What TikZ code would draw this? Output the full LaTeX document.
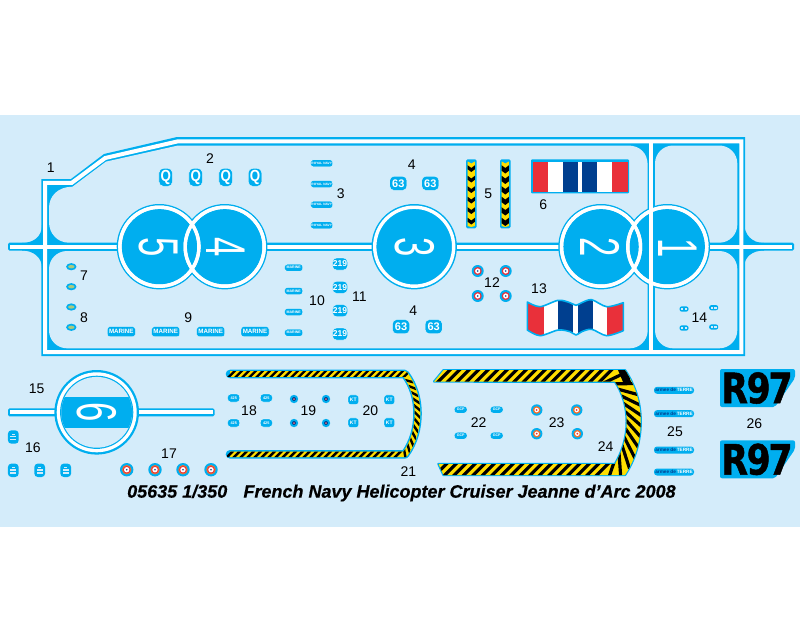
\documentclass[tikz,border=0pt]{standalone}
\usepackage{fontspec}
\usepackage{graphicx}
\setmainfont{Liberation Sans}
\usetikzlibrary{decorations.markings}
\definecolor{skyb}{HTML}{00AEEF}
\definecolor{pale}{HTML}{D4ECFA}
\definecolor{flagred}{HTML}{E9303A}
\definecolor{navyb}{HTML}{003F8F}
\definecolor{hazy}{HTML}{FFDE00}
\definecolor{moss}{HTML}{A9C97F}
\definecolor{burnt}{HTML}{F0702E}
\tikzset{
  lbl/.style={font=\fontsize{14}{14}\selectfont,text=black,inner sep=0pt},
  bigdigit/.style={font=\fontsize{56}{56}\selectfont,text=white,inner sep=0pt,rotate=-90},
  chip/.style={fill=skyb,draw=white,line width=0.3pt,rounded corners=2.5pt,text=white,inner sep=0pt,align=center,font=\fontsize{#1}{#1}\bfseries\selectfont},
  chip/.default=6,
  capsule/.style={fill=skyb,rounded corners=3pt,minimum width=40pt,minimum height=7pt,inner sep=0pt},
}
\newcommand{\markdisc}[6]{%
  \fill[skyb] (#1,#2) circle (#3);
  \fill[#6] (#1,#2) circle (#4);
  \fill[white] (#1,#2) circle (#5);
  \fill[navyb] (#1,#2) circle (0.8);
}
\begin{document}
\begin{tikzpicture}[x=1pt,y=-1pt]
\path[use as bounding box,fill=white] (0,0) rectangle (800,640);
\fill[pale] (0,115) rectangle (800,527);

% sheet body
\fill[skyb] (41.3,179) -- (71,179) -- (104,154) -- (177,137) -- (745,137) -- (745,356) -- (41.3,356) -- cycle;
\fill[skyb] (42,225) .. controls (42,237) and (33,243) .. (22,243) -- (22,250.5) .. controls (33,250.5) and (42,257) .. (42,268) -- cycle;
\fill[skyb] (744,222) .. controls (744,235) and (752,243) .. (764,243) -- (764,250.5) .. controls (752,250.5) and (744,257) .. (744,268) -- cycle;
\fill[skyb,rounded corners=1.5pt] (8,242.7) rectangle (794,250.7);
\draw[white,line width=4pt,line join=miter] (45,182.8) -- (71.8,182.8) -- (105.2,158) -- (177.6,141.4) -- (741.3,141.4) -- (741.3,352.2) -- (45,352.2) -- cycle;
\draw[white,line width=4pt] (10,246.7) -- (792,246.7);

% panels
\fill[pale] (69,242.7) .. controls (57,242.7) and (49,233) .. (49,222) -- (49,208) .. controls (49,196) and (58,186.7) .. (72.5,186.7) -- (106,161.6) -- (178,145.5) -- (627.7,145.5) .. controls (640,145.5) and (647.7,153) .. (647.7,165.5) -- (647.7,222.7) .. controls (647.7,235) and (640,242.7) .. (627.7,242.7) -- cycle;
\fill[pale,rounded corners=18pt] (49,251) rectangle (647.7,348.3);
\fill[pale,rounded corners=18pt] (655,145.5) rectangle (737.3,242.7);
\fill[pale,rounded corners=18pt] (655,251) rectangle (737.3,348.3);

% big circles
\foreach \cx in {159.4,224.7,414.2,601,667.3}{
  \fill[skyb] (\cx,246.7) circle (42.7);
}
\foreach \cx in {159.4,224.7,414.2,601,667.3}{
  \draw[white,line width=3.4pt] (\cx,246.7) circle (39.5);
}
\foreach \cx/\cy in {159.4/224.7,601/667.3}{
  \begin{scope}
  \clip (\cx,246.7) circle (37.8);
  \fill[skyb] (\cy,246.7) circle (37.8);
  \end{scope}
}
\foreach \cx in {159.4,224.7,601,667.3}{
  \draw[white,line width=3.4pt] (\cx,246.7) circle (39.5);
}
\draw[white,line width=4pt] (651.3,141.4) -- (651.3,352.2);
\node[bigdigit] (d5) at (158.3,246.7) {\scalebox{0.62}[1]{5}};
\node[bigdigit] (d4) at (226,246.7) {\scalebox{0.62}[1]{4}};
\node[bigdigit] (d3) at (415,246.7) {\scalebox{0.62}[1]{3}};
\node[bigdigit] (d2) at (600,246.7) {\scalebox{0.62}[1]{2}};
\node[bigdigit] (d1) at (678,248) {\scalebox{0.62}[1]{1}};

% Q marks
\foreach \i/\x in {1/165.7,2/195.7,3/225.7,4/255}{
  \node[chip=14,minimum width=13.5pt,minimum height=18pt,rounded corners=4.5pt] (q\i) at (\x,177.3) {\scalebox{0.95}[1.15]{Q}};
}
% royal navy
\foreach \i/\y in {1/163.3,2/184,3/204.7,4/225.3}{
  \node[chip=3.2,minimum width=22pt,minimum height=7pt] (rn\i) at (321.7,\y) {ROYAL NAVY};
}
% 63
\foreach \i/\x/\y in {1/398.3/183.3,2/430.3/183.3,3/401/326.7,4/433.7/326.7}{
  \node[chip=11,minimum width=17pt,minimum height=14pt,rounded corners=4pt] (sf\i) at (\x,\y) {63};
}
% 7-8 small
\foreach \y in {266.7,286.7,307,327.3}{
  \fill[skyb] (71.3,\y) ellipse (5.2 and 3.6);
  \fill[moss] (71.3,\y) ellipse (3.2 and 1.7);
}
% MARINE
\foreach \i/\x in {1/121.3,2/165.7,3/210.7,4/255}{
  \node[chip=6.2,minimum width=28pt,minimum height=10pt] (ma\i) at (\x,331.7) {MARINE};
}
\foreach \i/\y in {1/267.7,2/291,3/312,4/332.7}{
  \node[chip=3.6,minimum width=18pt,minimum height=7pt] (mb\i) at (293.7,\y) {MARINE};
}
\foreach \i/\y in {1/264,2/287.3,3/310.7,4/334}{
  \node[chip=8.5,minimum width=15pt,minimum height=12pt,rounded corners=4pt] (tn\i) at (340,\y) {219};
}
% roundels 12
\foreach \x/\y in {477.7/271,505.7/271,477.7/296,505.7/296}{
  \markdisc{\x}{\y}{6}{4}{2.6}{flagred}
}
% chevrons 5
\foreach \cx/\h in {471.3/4,505.3/5.5}{
  \fill[skyb,rounded corners=1.5pt] (\cx-5.3,159.3) rectangle (\cx+5.3,228.3);
  \begin{scope}
    \clip (\cx-3.6,161.5) -- (\cx,163.5) -- (\cx+3.6,161.5) -- (\cx+3.6,226) -- (\cx,227) -- (\cx-3.6,226) -- cycle;
    \fill[hazy] (\cx-4,160) rectangle (\cx+4,228);
    \foreach \y in {165,175.5,...,228}{
      \fill[black] (\cx-4,\y) -- (\cx,\y+3) -- (\cx+4,\y) -- (\cx+4,\y+\h) -- (\cx,\y+\h+3) -- (\cx-4,\y+\h) -- cycle;
    }
  \end{scope}
}
% flag 6
\fill[skyb,rounded corners=1pt] (531,159.3) rectangle (629,193.3);
\fill[white] (533,161.5) rectangle (627.5,191.5);
\fill[flagred] (533,161.5) rectangle (548.3,191.5);
\fill[navyb] (563.3,161.5) rectangle (577.7,191.5);
\fill[navyb] (582.3,161.5) rectangle (597.3,191.5);
\fill[flagred] (612,161.5) rectangle (627.5,191.5);
% flag 13
\newcommand{\wavepath}{plot[smooth] coordinates {(527.3,302) (540,306.7) (558.3,300.3) (570,302.7) (576,305.3) (581.7,302.7) (591.7,299.7) (606.7,306.7) (623.3,302.7)} -- plot[smooth] coordinates {(623.3,330.7) (606.7,335.7) (591.7,329.3) (581.7,331.7) (576,335) (570,331.7) (558.3,330) (540,335.7) (527.3,330)} -- cycle}
\begin{scope}
  \clip \wavepath;
  \fill[white] (525,295) rectangle (626,340);
  \fill[flagred] (525,295) rectangle (544,340);
  \fill[navyb] (558.3,295) rectangle (573.3,340);
  \fill[navyb] (578.3,295) rectangle (592.7,340);
  \fill[flagred] (607.3,295) rectangle (626,340);
\end{scope}
\draw[skyb,line width=1.6pt,line join=round] \wavepath;
% 14
\foreach \x/\y in {684/309,713.7/307.7,684/328,713.7/327}{
  \fill[skyb,rounded corners=2.2pt] (\x-4.5,\y-2.6) rectangle (\x+4.5,\y+2.6);
  \fill[pale] (\x-2.8,\y-0.8) rectangle (\x-0.6,\y+0.8);
  \fill[pale] (\x+0.6,\y-0.8) rectangle (\x+2.8,\y+0.8);
}
% circle 6
\fill[skyb,rounded corners=1.5pt] (8,408.3) rectangle (214.5,416.3);
\draw[white,line width=4pt] (10,412.3) -- (212.5,412.3);
\fill[skyb] (96.7,412.3) circle (42.3);
\fill[white] (96.7,412.3) circle (40);
\fill[skyb] (96.7,412.3) circle (36.6);
\fill[pale] (96.7,412.3) circle (35.4);
\begin{scope}
  \clip (96.7,412.3) circle (35.4);
  \fill[skyb] (55,396.7) rectangle (140,427.7);
\end{scope}
\node[bigdigit] (d6) at (97,412.3) {\scalebox{0.62}[1]{6}};
% 16
\foreach \x/\y in {13.3/437,13.3/470.3,39.7/470.3,65.7/470.3}{
  \fill[skyb,rounded corners=3.5pt] (\x-5.4,\y-6.7) rectangle (\x+5.4,\y+6.7);
  \fill[pale] (\x-1.5,\y-3.5) rectangle (\x+1.5,\y-2.5);
  \fill[pale] (\x-3,\y-0.9) rectangle (\x+3,\y+0.3);
  \fill[pale] (\x-3,\y+2) rectangle (\x+3,\y+3.2);
}
% 17
\foreach \x in {126.7,155,183,211}{
  \fill[skyb] (\x,469.7) circle (6.7);
  \fill[burnt] (\x,469.7) circle (4.7);
  \fill[flagred] (\x,469.7) circle (3.7);
  \fill[white] (\x,469.7) circle (2.7);
  \fill[navyb] (\x,469.7) circle (0.9);
}
% 18
\foreach \i/\x/\y in {1/233.7/398,2/266.3/398,3/233.7/423,4/266.3/423}{
  \node[chip=3.8,minimum width=12pt,minimum height=8pt,rounded corners=3pt] (ft\i) at (\x,\y) {425};
}
% 19
\foreach \x/\y in {294/399,326/399,294/423,326/423}{
  \fill[skyb] (\x,\y) circle (4.2);
  \fill[navyb] (\x,\y) circle (2);
  \fill[flagred!70!white] (\x,\y) circle (1);
}
% 20
\foreach \i/\x/\y in {1/353.3/399.7,2/389.3/399.7,3/353.3/422.7,4/389.3/422.7}{
  \node[chip=5,minimum width=10.5pt,minimum height=9.5pt] (kt\i) at (\x,\y) {KT};
}
% band 21
\newcommand{\bandone}{(230,374) -- (405,374) .. controls (414,386) and (417.5,400) .. (417.5,413.5) .. controls (417.5,427) and (414,442) .. (405,454.3) -- (230,454.3)}
\draw[skyb,line width=8.6pt,line cap=round,line join=round] \bandone;
\draw[hazy,line width=5.6pt,line join=round] \bandone;
\begin{scope}
\path[clip] (227,371.2) -- (406.4,371.2) .. controls (416.4,386) and (420.3,400) .. (420.3,413.5) .. controls (420.3,427) and (416.4,443) .. (406.4,457.1) -- (227,457.1) -- (227,451.5) -- (403.6,451.5) .. controls (411.6,441) and (414.7,427) .. (414.7,413.5) .. controls (414.7,400) and (411.6,387) .. (403.6,376.8) -- (227,376.8) -- cycle;
\path[decorate,decoration={markings,mark=between positions 0 and 1 step 7pt with {\fill[black] (3.2,-3.2) -- (6.6,-3.2) -- (0.2,3.2) -- (-3.2,3.2) -- cycle;}}] \bandone;
\end{scope}
% band 24
\newcommand{\bandtwoshape}{(434.2,381.5) -- (443.5,370.2) -- (625,370.2) .. controls (635,385) and (640.7,402) .. (640.7,421.7) .. controls (640.7,441) and (635,460) .. (625,475) -- (443.5,475) -- (438.5,464) -- (615,464) .. controls (622,452) and (626.7,438) .. (626.7,421.7) .. controls (626.7,406) and (622,392) .. (615,381.7) -- cycle}
\newcommand{\bandtwomid}{(432,376) -- (606,376) .. controls (624,376) and (633.7,400) .. (633.7,421.7) .. controls (633.7,443) and (624,469.5) .. (606,469.5) -- (430,469.5)}
\draw[skyb,line width=2.4pt,line join=round] \bandtwoshape;
\begin{scope}
\clip \bandtwoshape;
\fill[hazy] (425,365) rectangle (645,480);
\path[decorate,decoration={markings,mark=between positions 0 and 1 step 9.5pt with {\fill[black] (9,-9) -- (13.5,-9) -- (-4.5,9) -- (-9,9) -- cycle;}}] \bandtwomid;
\fill[black] (618,370) -- (627,370) -- (631,382) -- (623,382) -- cycle;
\end{scope}
% 22
\foreach \i/\x/\y in {1/460.7/409.7,2/496.7/409.7,3/460.7/435.7,4/496.7/435.7}{
  \node[chip=3.6,minimum width=13pt,minimum height=7pt,rounded corners=3.2pt] (gc\i) at (\x,\y) {GCP};
}
% 23
\foreach \x/\y in {536.7/410,576.7/410,536.7/433.7,577.3/433.7}{
  \fill[skyb] (\x,\y) circle (5.7);
  \fill[burnt] (\x,\y) circle (3.8);
  \fill[white] (\x,\y) circle (2.3);
  \fill[flagred] (\x,\y) circle (1);
}
% 25
\foreach \i/\y in {1/390.3,2/413.7,3/450,4/472}{
  \node[capsule] (ar\i) at (674,\y) {\fontsize{4.7}{4.7}\bfseries\selectfont\textcolor{navyb}{armee de}\,\textcolor{white}{TERRE}};
}
% R97
\foreach \i/\dy in {1/0,2/71.3}{
  \fill[skyb,rounded corners=2pt] (720,369+\dy) -- (795,369+\dy) -- (795,378+\dy) -- (775,407+\dy) -- (720,407+\dy) -- cycle;
  \node[inner sep=0pt] (rr\i) at (757,388+\dy) {\resizebox{71pt}{31pt}{\fontspec{DejaVu Sans}\bfseries\addfontfeature{FakeBold=1.2}R\kern-0.04em 9\kern-0.06em 7}};
}
% labels
\foreach \i/\t/\x/\y in {a/1/50.7/167.7,b/2/210/159,c/7/84/275.7,d/8/84/317.3,e/9/188.3/317.3,f/3/340.7/193.3,g/4/411.7/165,h/5/488.3/193.3,i/10/317/300.7,j/11/359.3/296.7,k/12/492/282.7,l/4/413.3/311,m/6/543.3/205,n/13/539/289,o/14/699.3/317.3,p/15/36.7/389,q/16/33/447.3,r/17/169/453.7,s/18/249/410.7,t/19/308.3/410.7,u/20/370.3/410.7,v/21/408.3/471.7,w/22/478.7/423,x/23/556.7/423,y/24/605.7/446.7,z/25/675/431.7,A/26/754.3/424}{
  \node[lbl] (lb\i) at (\x,\y) {\t};
}
\node[inner sep=0pt,anchor=west] (title) at (127,493) {\fontsize{18}{18}\selectfont\bfseries\itshape\addfontfeature{FakeBold=0.5} 05635 1/350\hspace{0.9em}French Navy Helicopter Cruiser Jeanne d’Arc 2008};
\end{tikzpicture}
\end{document}
